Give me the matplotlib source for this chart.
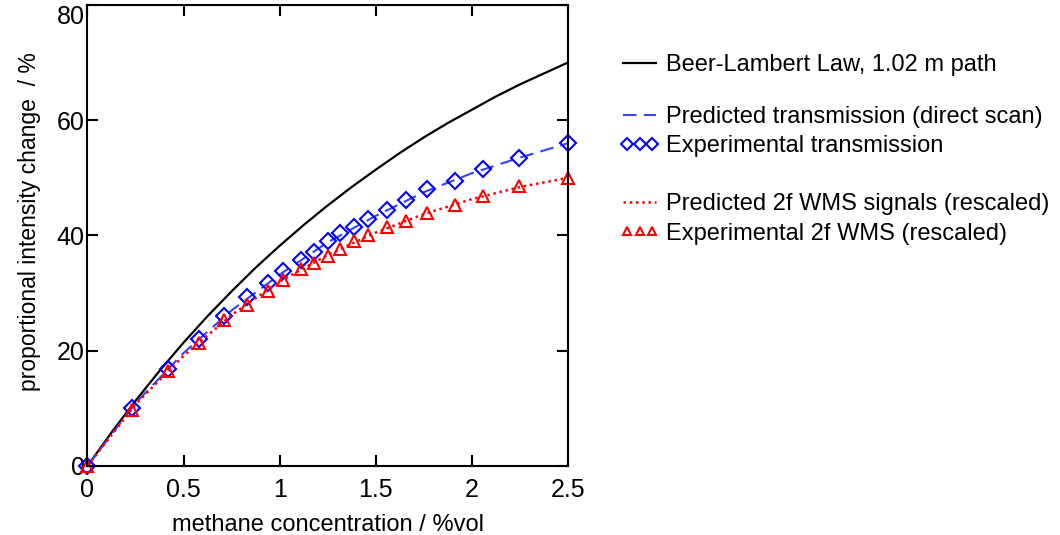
import matplotlib
matplotlib.use("Agg")
import matplotlib.pyplot as plt
from matplotlib.legend_handler import HandlerLine2D

plt.rcParams["font.family"] = ["Liberation Sans", "DejaVu Sans"]
plt.rcParams["font.size"] = 17

# Beer-Lambert curve
bl_conc = [0, 0.125, 0.25, 0.375, 0.5, 0.625, 0.75, 0.875, 1.0, 1.125, 1.25,
           1.375, 1.5, 1.625, 1.75, 1.875, 2.0, 2.125, 2.25, 2.375, 2.5]
bl_change = [0, 5.8, 11.3, 16.5, 21.4, 26.0, 30.3, 34.4, 38.2, 41.8, 45.2,
             48.4, 51.4, 54.3, 57.0, 59.5, 61.8, 64.1, 66.2, 68.1, 70.0]

# predicted curves
pred_conc = [0, 0.25, 0.5, 0.75, 1.0, 1.25, 1.5, 1.75, 2.0, 2.25, 2.5]
pred_trans = [0, 10.9, 19.6, 27.0, 33.2, 38.8, 43.4, 47.5, 50.8, 53.5, 56.0]
pred_wms = [0, 10.7, 19.1, 26.2, 32.0, 36.6, 40.5, 43.7, 46.3, 48.4, 50.0]

# experimental points
exp_conc = [0, 0.23, 0.42, 0.58, 0.71, 0.83, 0.94, 1.02, 1.11, 1.18, 1.25,
            1.315, 1.385, 1.46, 1.56, 1.66, 1.765, 1.914, 2.06, 2.244, 2.5]
exp_trans = [0, 10.1, 16.8, 22.0, 26.0, 29.3, 31.8, 33.9, 35.7, 37.2, 39.1,
             40.4, 41.4, 42.8, 44.5, 46.1, 48.0, 49.5, 51.5, 53.4, 56.0]
exp_wms = [0, 9.7, 16.4, 21.3, 25.3, 27.9, 30.4, 32.2, 34.1, 35.2, 36.4,
           37.7, 39.1, 40.1, 41.4, 42.5, 43.9, 45.3, 46.9, 48.5, 49.9]

fig = plt.figure(figsize=(10.6, 5.35), dpi=100)
ax = fig.add_axes([0.0825, 0.129, 0.4531, 0.8617])

l_bl, = ax.plot(bl_conc, bl_change, color="black", lw=1.6)
l_pt, = ax.plot(pred_conc, pred_trans, color="#3344ff", lw=1.5, ls=(0, (6.5, 3.5)))
m_et, = ax.plot(exp_conc, exp_trans, ls="none", marker="D", ms=8.5, mfc="none",
                mec="blue", mew=1.5, clip_on=False)
l_pw, = ax.plot(pred_conc, pred_wms, color="red", lw=1.8, ls=(0, (1, 1.5)))
m_ew, = ax.plot(exp_conc, exp_wms, ls="none", marker="^", ms=8.5, mfc="none",
                mec="red", mew=1.5, clip_on=False)

ax.set_xlim(0, 2.5)
ax.set_ylim(0, 80)
ax.set_xticks([0, 0.5, 1, 1.5, 2, 2.5])
ax.set_xticklabels(["0", "0.5", "1", "1.5", "2", "2.5"])
ax.set_yticks([0, 20, 40, 60, 80])
ax.tick_params(direction="in", length=8, width=1.5, top=True, right=True,
               labelsize=18)
ax.tick_params(axis="x", pad=9)
ax.tick_params(axis="y", pad=2)
ax.get_yticklabels()[-1].set_va("top")
for s in ax.spines.values():
    s.set_linewidth(1.5)

ax.set_xlabel("methane concentration / %vol", labelpad=8)
ax.set_ylabel("proportional intensity change  / %", fontsize=16.5)
ax.yaxis.set_label_coords(-0.097, 0.53)

# markers sit closer together than the line handles
hmap = {m_et: HandlerLine2D(marker_pad=0.47), m_ew: HandlerLine2D(marker_pad=0.47)}
leg_kw = dict(frameon=False, fontsize=17, handlelength=2.0, handletextpad=0.12,
              borderaxespad=0, labelspacing=0.3, numpoints=3, markerscale=0.7,
              handler_map=hmap)
leg1 = fig.legend([l_bl], ["Beer-Lambert Law, 1.02 m path"], loc="upper left",
                  bbox_to_anchor=(0.5722, 0.916), **leg_kw)
leg2 = fig.legend([l_pt, m_et], ["Predicted transmission (direct scan)",
                                 "Experimental transmission"],
                  loc="upper left", bbox_to_anchor=(0.5722, 0.819), **leg_kw)
leg3 = fig.legend([l_pw, m_ew], ["Predicted 2f WMS signals (rescaled)",
                                 "Experimental 2f WMS (rescaled)"],
                  loc="upper left", bbox_to_anchor=(0.5722, 0.656), **leg_kw)

fig.savefig("out.png", dpi=100)
